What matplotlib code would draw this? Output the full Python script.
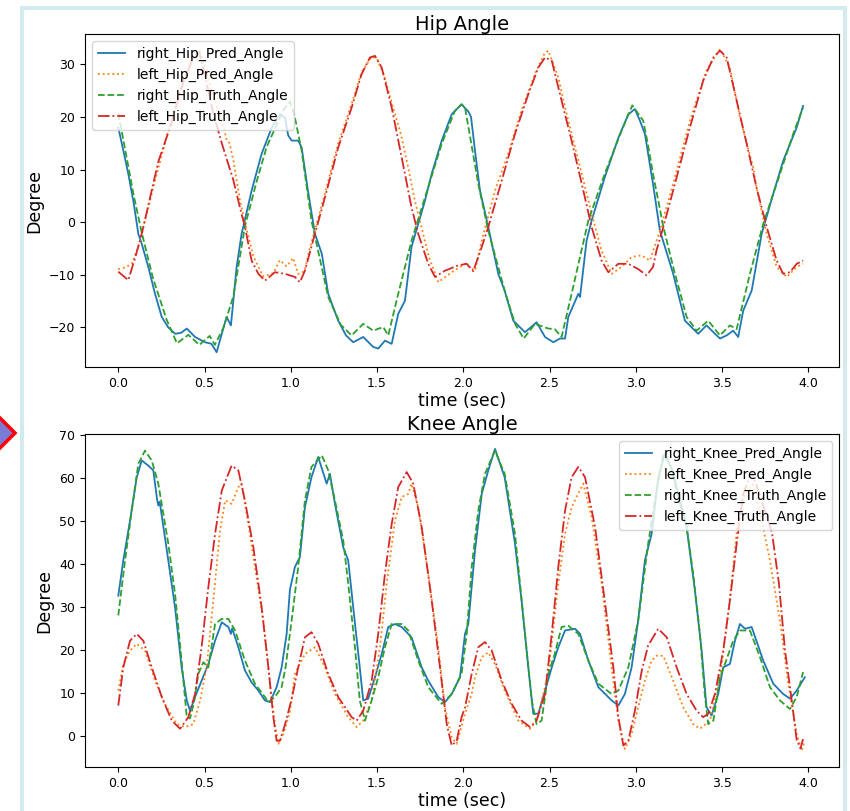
import matplotlib
matplotlib.use("Agg")
import matplotlib.pyplot as plt
from matplotlib.patches import Polygon, Rectangle

# ---- Hip angle data (time in sec, angle in degree) ----
hip_rp_t = [0.0, 0.03, 0.058, 0.09, 0.116, 0.136, 0.174, 0.213, 0.252, 0.29, 0.33, 0.365, 0.397,
            0.445, 0.503, 0.54, 0.57, 0.6, 0.628, 0.653, 0.667, 0.686, 0.715, 0.773, 0.831, 0.89,
            0.937, 0.966, 0.985, 1.005, 1.043, 1.063, 1.10, 1.14, 1.18, 1.217, 1.275, 1.32, 1.362,
            1.42, 1.478, 1.507, 1.546, 1.585, 1.623, 1.662, 1.70, 1.778, 1.817, 1.875, 1.933, 1.99,
            2.03, 2.045, 2.068, 2.097, 2.145, 2.203, 2.24, 2.29, 2.358, 2.425, 2.474, 2.522, 2.56,
            2.59, 2.609, 2.667, 2.677, 2.715, 2.744, 2.82, 2.90, 2.957, 2.995, 3.024, 3.053, 3.10,
            3.14, 3.217, 3.285, 3.362, 3.41, 3.488, 3.527, 3.565, 3.594, 3.623, 3.672, 3.73, 3.797,
            3.855, 3.933, 3.97]
hip_rp = [18.0, 13.5, 9.2, 3.5, -2.2, -4.1, -8.5, -13.6, -18.0, -20.0, -21.2, -21.0, -20.2,
          -21.8, -22.8, -23.1, -24.7, -21.2, -18.0, -19.6, -14.9, -8.5, -2.2, 6.0, 13.0, 18.0,
          20.5, 19.9, 16.5, 15.5, 15.5, 14.2, 5.9, -2.2, -6.0, -13.6, -18.7, -21.5, -22.8,
          -21.8, -23.7, -24.0, -22.5, -23.1, -17.4, -14.9, -4.7, 4.1, 9.2, 15.5, 20.5, 22.4,
          21.0, 20.0, 13.6, 6.0, -0.9, -9.8, -13.0, -18.7, -20.9, -19.0, -21.8, -22.8, -22.1,
          -22.1, -18.0, -13.6, -14.2, -3.5, 0.3, 8.5, 16.1, 20.5, 21.5, 19.3, 16.8, 7.3,
          -1.6, -9.8, -18.7, -21.2, -19.6, -22.1, -21.5, -20.6, -21.8, -16.8, -13.0, -2.2, 5.4,
          11.7, 18.0, 22.1]

hip_lp_t = [0.0, 0.04, 0.078, 0.116, 0.155, 0.213, 0.29, 0.36, 0.42, 0.47, 0.50, 0.55, 0.6,
            0.628, 0.645, 0.667, 0.705, 0.745, 0.783, 0.84, 0.899, 0.937, 0.976, 1.014, 1.043,
            1.063, 1.082, 1.11, 1.14, 1.198, 1.275, 1.353, 1.41, 1.47, 1.50, 1.54, 1.60, 1.64,
            1.68, 1.72, 1.80, 1.855, 1.933, 2.01, 2.068, 2.107, 2.184, 2.26, 2.34, 2.42, 2.47,
            2.493, 2.551, 2.59, 2.648, 2.687, 2.744, 2.802, 2.86, 2.918, 2.976, 3.034, 3.082,
            3.14, 3.217, 3.314, 3.41, 3.488, 3.546, 3.604, 3.681, 3.70, 3.759, 3.817, 3.875,
            3.933, 3.97]
hip_lp = [-8.9, -8.6, -7.9, -4.7, 0.3, 7.9, 17.4, 25.5, 30.5, 32.5, 30.0, 24.0, 19.5,
          15.6, 15.0, 11.8, 4.2, -1.5, -6.5, -10.3, -9.7, -7.2, -8.4, -6.8, -9.8,
          -9.7, -9.0, -5.0, -1.5, 5.5, 15.0, 22.5, 28.5, 31.5, 31.0, 28.0, 21.0, 16.5,
          10.5, 4.0, -6.5, -11.4, -9.5, -7.9, -9.2, -3.5, 6.0, 13.0, 21.5, 28.5, 32.0,
          32.6, 27.5, 21.8, 14.2, 9.2, 1.6, -5.4, -9.8, -8.5, -6.6, -6.3, -7.3,
          -1.6, 7.3, 19.3, 28.8, 32.9, 29.4, 19.9, 10.4, 6.6, -2.2, -8.5, -10.4,
          -8.5, -7.9]

hip_rt_t = [0.0, 0.05, 0.09, 0.136, 0.2, 0.28, 0.34, 0.406, 0.47, 0.53, 0.56, 0.61, 0.667,
            0.734, 0.80, 0.86, 0.957, 0.995, 1.02, 1.063, 1.12, 1.217, 1.29, 1.353, 1.42, 1.478,
            1.536, 1.565, 1.623, 1.70, 1.778, 1.875, 1.952, 1.99, 2.01, 2.087, 2.145, 2.24, 2.30,
            2.35, 2.416, 2.493, 2.53, 2.57, 2.628, 2.725, 2.82, 2.918, 2.98, 3.043, 3.07, 3.10,
            3.16, 3.217, 3.295, 3.353, 3.42, 3.488, 3.546, 3.585, 3.662, 3.739, 3.836, 3.913, 3.97]
hip_rt = [20.7, 12.0, 5.0, -2.0, -10.5, -18.5, -23.0, -21.4, -23.3, -21.6, -23.3, -20.0, -14.1,
          -0.8, 7.5, 14.3, 21.3, 22.9, 20.5, 13.6, 0.3, -14.2, -19.5, -21.5, -19.3, -20.6,
          -19.9, -21.5, -13.6, -3.5, 4.7, 14.9, 21.2, 22.4, 21.8, 7.3, -1.6, -13.0, -19.3,
          -22.1, -19.3, -20.2, -20.3, -21.8, -13.6, 0.3, 9.2, 17.4, 22.2, 19.3, 14.9, 9.2,
          -0.9, -8.5, -18.0, -20.6, -18.7, -21.5, -19.6, -20.3, -9.8, -0.3, 9.2, 16.8, 21.8]

hip_lt_t = [0.0, 0.058, 0.1, 0.136, 0.232, 0.31, 0.38, 0.44, 0.47, 0.512, 0.551, 0.6, 0.667,
            0.715, 0.734, 0.773, 0.812, 0.85, 0.908, 0.966, 1.024, 1.053, 1.082, 1.14, 1.198,
            1.275, 1.353, 1.41, 1.459, 1.488, 1.527, 1.585, 1.643, 1.70, 1.739, 1.797, 1.836,
            1.894, 1.971, 2.02, 2.058, 2.107, 2.145, 2.223, 2.30, 2.377, 2.435, 2.474, 2.513,
            2.57, 2.628, 2.687, 2.744, 2.802, 2.841, 2.899, 2.957, 3.014, 3.063, 3.10, 3.12,
            3.16, 3.237, 3.314, 3.391, 3.45, 3.488, 3.527, 3.585, 3.643, 3.70, 3.759, 3.817,
            3.855, 3.894, 3.933, 3.97]
hip_lt = [-9.4, -11.0, -6.5, -2.2, 11.5, 19.0, 27.0, 31.5, 32.3, 26.4, 20.7, 15.0, 8.0,
          1.5, -0.8, -7.3, -9.8, -11.1, -9.5, -9.8, -10.4, -11.4, -9.2, -2.2, 4.7,
          14.2, 21.8, 28.1, 31.3, 31.6, 29.4, 21.8, 12.3, 2.8, -2.2, -7.9, -10.4,
          -9.2, -8.2, -7.9, -9.3, -4.7, -0.9, 7.9, 16.8, 24.3, 29.4, 31.3, 30.7,
          23.1, 15.5, 7.3, -0.9, -7.3, -9.5, -7.9, -7.9, -8.9, -10.1, -8.5, -5.4,
          -0.9, 8.5, 18.0, 26.9, 31.3, 32.6, 31.3, 23.1, 14.9, 6.6, -0.9, -7.3,
          -9.8, -9.5, -7.9, -7.3]

# ---- Knee angle data ----
knee_rp_t = [0.0, 0.029, 0.068, 0.107, 0.136, 0.174, 0.203, 0.225, 0.232, 0.24, 0.29, 0.329,
             0.367, 0.397, 0.416, 0.445, 0.483, 0.522, 0.561, 0.6, 0.638, 0.653, 0.66, 0.696,
             0.734, 0.773, 0.812, 0.85, 0.88, 0.918, 0.947, 0.976, 0.995, 1.024, 1.053, 1.082,
             1.12, 1.159, 1.208, 1.227, 1.256, 1.304, 1.333, 1.362, 1.40, 1.42, 1.449, 1.488,
             1.527, 1.565, 1.604, 1.643, 1.70, 1.759, 1.797, 1.855, 1.894, 1.933, 1.981, 2.01,
             2.029, 2.068, 2.107, 2.145, 2.184, 2.24, 2.30, 2.338, 2.377, 2.406, 2.435, 2.474,
             2.513, 2.551, 2.59, 2.648, 2.677, 2.725, 2.783, 2.86, 2.899, 2.937, 2.976, 3.014,
             3.053, 3.092, 3.13, 3.17, 3.21, 3.25, 3.295, 3.343, 3.382, 3.41, 3.44, 3.478,
             3.507, 3.546, 3.575, 3.604, 3.633, 3.672, 3.739, 3.797, 3.855, 3.894, 3.933, 3.98]
knee_rp = [32.6, 40.8, 50.1, 60.2, 64.1, 62.9, 61.8, 55.0, 53.6, 54.5, 40.8, 29.9,
           15.9, 8.2, 5.8, 9.0, 12.8, 16.7, 22.1, 26.4, 25.3, 23.7, 25.0, 20.6,
           15.2, 12.4, 10.5, 8.2, 7.8, 11.3, 15.9, 23.7, 34.0, 39.3, 41.6, 53.2,
           60.2, 64.9, 58.7, 61.0, 54.0, 43.9, 40.8, 29.9, 15.9, 8.2, 8.6, 13.6,
           19.0, 25.3, 26.0, 25.3, 22.9, 15.9, 12.8, 9.0, 7.8, 9.7, 13.6, 23.7,
           26.0, 43.1, 56.3, 61.8, 66.8, 60.2, 44.7, 31.5, 15.9, 5.1, 5.1, 10.5,
           15.9, 20.6, 24.5, 24.9, 23.7, 17.5, 11.3, 8.2, 7.0, 9.7, 15.9, 26.8,
           40.8, 47.0, 60.0, 65.8, 62.0, 56.0, 48.6, 33.8, 19.8, 6.6, 4.7, 9.7,
           15.9, 16.7, 22.1, 26.0, 24.9, 25.3, 17.5, 12.1, 9.7, 8.6, 10.5, 13.6]

knee_lp_t = [0.0, 0.029, 0.068, 0.107, 0.155, 0.213, 0.27, 0.338, 0.387, 0.435, 0.474, 0.512,
             0.551, 0.59, 0.62, 0.657, 0.696, 0.715, 0.754, 0.792, 0.841, 0.88, 0.908, 0.928,
             0.957, 0.995, 1.024, 1.082, 1.14, 1.198, 1.256, 1.333, 1.382, 1.42, 1.469, 1.517,
             1.556, 1.604, 1.643, 1.681, 1.70, 1.739, 1.797, 1.855, 1.894, 1.933, 1.962, 2.01,
             2.049, 2.068, 2.107, 2.145, 2.184, 2.24, 2.319, 2.387, 2.425, 2.493, 2.551, 2.59,
             2.628, 2.657, 2.696, 2.744, 2.802, 2.86, 2.899, 2.937, 2.976, 3.014, 3.053, 3.092,
             3.12, 3.16, 3.217, 3.275, 3.333, 3.372, 3.43, 3.488, 3.527, 3.565, 3.594, 3.633,
             3.68, 3.72, 3.778, 3.836, 3.884, 3.933, 3.962, 3.98]
knee_lp = [10.5, 16.7, 19.8, 21.4, 19.8, 12.8, 7.4, 2.7, 2.0, 2.7, 8.2, 15.9,
           31.5, 47.8, 54.8, 54.0, 57.9, 58.7, 49.3, 39.3, 26.8, 12.1, 2.7, -1.9,
           0.4, 5.5, 14.4, 19.0, 20.6, 15.9, 9.7, 4.3, 2.0, 3.5, 8.2, 20.6,
           35.4, 50.1, 55.6, 56.3, 58.7, 53.2, 37.7, 20.6, 6.6, -0.4, -1.9, 5.1,
           9.7, 13.6, 18.3, 19.4, 16.7, 10.5, 3.5, 1.6, 3.5, 14.4, 35.4, 47.0,
           53.2, 55.6, 58.7, 50.9, 35.4, 15.9, 3.5, -3.1, 0.4, 6.6, 12.8, 17.5,
           18.6, 18.6, 12.8, 6.6, 2.7, 1.6, 3.5, 13.6, 25.3, 39.3, 50.9, 56.5,
           58.5, 52.0, 40.8, 26.8, 12.1, 0.4, -3.5, -1.2]

knee_rt_t = [0.0, 0.039, 0.078, 0.116, 0.155, 0.194, 0.232, 0.29, 0.329, 0.367, 0.397, 0.416,
             0.44, 0.464, 0.493, 0.522, 0.561, 0.6, 0.638, 0.677, 0.734, 0.792, 0.85, 0.87,
             0.908, 0.947, 0.97, 1.005, 1.043, 1.082, 1.12, 1.18, 1.217, 1.256, 1.304, 1.333,
             1.372, 1.40, 1.43, 1.469, 1.507, 1.546, 1.585, 1.643, 1.681, 1.739, 1.797, 1.875,
             1.933, 1.99, 2.02, 2.049, 2.087, 2.126, 2.184, 2.24, 2.30, 2.358, 2.397, 2.425,
             2.454, 2.493, 2.53, 2.57, 2.609, 2.667, 2.725, 2.783, 2.86, 2.899, 2.957, 3.014,
             3.072, 3.111, 3.16, 3.20, 3.25, 3.295, 3.333, 3.372, 3.40, 3.42, 3.45, 3.488,
             3.517, 3.565, 3.604, 3.662, 3.72, 3.778, 3.836, 3.894, 3.933, 3.97]
knee_rt = [28.0, 40.8, 52.4, 63.3, 66.4, 64.1, 58.7, 44.7, 33.0, 17.5, 4.3, 4.0,
           8.0, 14.4, 17.1, 15.9, 26.0, 27.2, 27.2, 24.5, 17.5, 12.1, 9.0, 7.8,
           9.0, 11.3, 16.0, 26.8, 39.3, 54.8, 62.6, 65.3, 61.8, 54.8, 45.5, 35.4,
           20.6, 8.2, 3.5, 8.2, 13.6, 20.6, 26.0, 26.0, 24.5, 17.5, 11.3, 7.4,
           9.7, 14.4, 23.7, 39.3, 52.4, 61.0, 66.4, 61.0, 47.0, 23.7, 8.2, 2.7,
           3.5, 14.4, 19.0, 25.3, 25.6, 23.7, 17.5, 12.1, 9.7, 10.5, 15.9, 26.8,
           44.7, 54.8, 65.5, 63.0, 55.0, 48.6, 37.7, 23.7, 9.7, 2.7, 3.5, 13.6,
           16.7, 22.1, 24.5, 24.5, 18.3, 11.3, 8.2, 6.2, 9.0, 14.8]

knee_lt_t = [0.0, 0.029, 0.068, 0.107, 0.145, 0.194, 0.252, 0.31, 0.358, 0.406, 0.445, 0.483,
             0.522, 0.561, 0.6, 0.657, 0.696, 0.734, 0.783, 0.831, 0.87, 0.899, 0.918, 0.937,
             0.966, 1.005, 1.043, 1.082, 1.12, 1.159, 1.217, 1.275, 1.353, 1.382, 1.42, 1.469,
             1.507, 1.546, 1.585, 1.623, 1.672, 1.71, 1.759, 1.817, 1.865, 1.904, 1.933, 1.962,
             1.99, 2.01, 2.049, 2.087, 2.126, 2.165, 2.223, 2.281, 2.338, 2.387, 2.425, 2.474,
             2.513, 2.551, 2.59, 2.628, 2.667, 2.706, 2.764, 2.82, 2.87, 2.899, 2.928, 2.957,
             2.995, 3.034, 3.072, 3.13, 3.18, 3.237, 3.295, 3.353, 3.391, 3.42, 3.459, 3.507,
             3.546, 3.585, 3.623, 3.672, 3.72, 3.79, 3.83, 3.865, 3.904, 3.933, 3.955, 3.97]
knee_lt = [7.0, 15.9, 22.1, 23.7, 22.1, 15.9, 9.0, 3.5, 1.6, 4.3, 9.7, 20.6,
           34.6, 47.0, 57.1, 62.9, 61.8, 54.8, 43.9, 29.9, 15.9, 4.3, -1.2, -1.2,
           2.5, 8.5, 15.9, 22.9, 24.1, 21.4, 14.4, 9.0, 4.3, 3.5, 5.8, 12.8,
           23.7, 37.7, 49.3, 57.9, 61.4, 58.7, 48.6, 31.5, 15.9, 2.7, -2.3, -1.2,
           4.3, 6.5, 14.4, 20.6, 21.8, 19.8, 12.8, 7.4, 3.5, 2.0, 3.5, 9.7,
           23.7, 39.3, 52.4, 60.2, 62.6, 60.2, 48.6, 31.5, 15.9, 4.3, -2.3, -1.2,
           5.8, 15.0, 21.0, 24.9, 22.9, 15.9, 9.7, 5.8, 4.3, 5.1, 9.7, 19.8,
           31.5, 44.7, 56.3, 61.4, 56.0, 47.2, 35.5, 20.0, 8.3, -1.0, -3.0, -0.8]

colors = ["#1f77b4", "#ff7f0e", "#2ca02c", "#d62728"]
styles = ["-", ":", "--", "-."]

fig = plt.figure(figsize=(8.5, 8.11), dpi=100)

# screenshot frame decorations
fig.patches.append(Rectangle((22 / 850, -0.05), (844.5 - 22) / 850, 1 - 8 / 811 + 0.05,
                             transform=fig.transFigure, fill=False,
                             edgecolor="#d3ebee", lw=3))
fig.patches.append(Polygon([(-15 / 850, 1 - 433 / 811), (0, 1 - 418 / 811),
                            (15 / 850, 1 - 433 / 811), (0, 1 - 448 / 811)],
                           closed=True, transform=fig.transFigure,
                           facecolor="#7b7bd6", edgecolor="red", lw=2.5))

ax1 = fig.add_axes([0.1, 0.5475, 0.8874, 0.4102])
ax2 = fig.add_axes([0.1, 0.0543, 0.8874, 0.4102])

hip_series = [(hip_rp_t, hip_rp, "right_Hip_Pred_Angle"),
              (hip_lp_t, hip_lp, "left_Hip_Pred_Angle"),
              (hip_rt_t, hip_rt, "right_Hip_Truth_Angle"),
              (hip_lt_t, hip_lt, "left_Hip_Truth_Angle")]
knee_series = [(knee_rp_t, knee_rp, "right_Knee_Pred_Angle"),
               (knee_lp_t, knee_lp, "left_Knee_Pred_Angle"),
               (knee_rt_t, knee_rt, "right_Knee_Truth_Angle"),
               (knee_lt_t, knee_lt, "left_Knee_Truth_Angle")]

for ax, series, title, loc in [(ax1, hip_series, "Hip Angle", "upper left"),
                               (ax2, knee_series, "Knee Angle", "upper right")]:
    for (t, y, name), c, ls in zip(series, colors, styles):
        ax.plot(t, y, color=c, linestyle=ls, lw=1.3, label=name)
    ax.set_title(title, fontsize=14, pad=2)
    ax.set_xlabel("time (sec)", fontsize=12.5, labelpad=2)
    ax.set_ylabel("Degree", fontsize=12.5)
    ax.tick_params(labelsize=9)
    ax.set_xticks([0.0, 0.5, 1.0, 1.5, 2.0, 2.5, 3.0, 3.5, 4.0])
    ax.set_xlim(-0.193, 4.18)
    ax.legend(loc=loc, fontsize=10)

ax1.set_ylim(-27.5, 35.7)
ax2.set_ylim(-7.3, 70.2)

plt.savefig("out.png", dpi=100)
